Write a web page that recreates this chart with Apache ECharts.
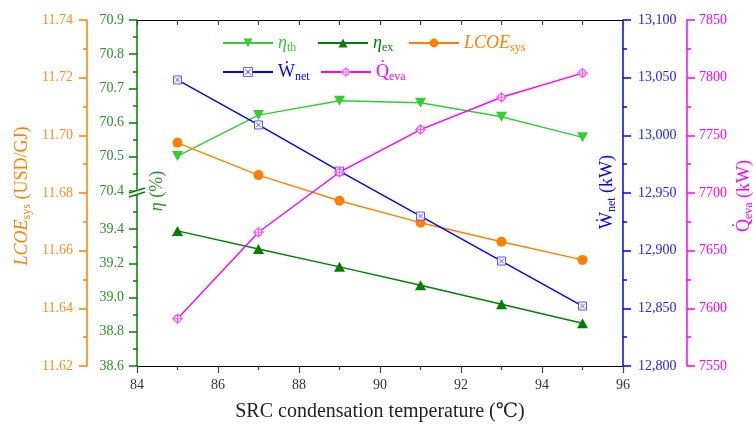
<!DOCTYPE html>
<html>
<head>
<meta charset="utf-8">
<script src="https://cdn.jsdelivr.net/npm/echarts@6/dist/echarts.min.js"></script>
<style>html,body{margin:0;padding:0;background:#fff;}#c{width:756px;height:428px;}</style>
</head>
<body>
<div id="c"></div>
<script>
// ---- data ----
const temps = [85, 87, 89, 91, 93, 95];
const etaTh = [70.502, 70.622, 70.664, 70.658, 70.617, 70.557];
const etaEx = [39.39, 39.284, 39.18, 39.072, 38.961, 38.85];
const lcoe = [11.6974, 11.6862, 11.6773, 11.6697, 11.6631, 11.6568];
const wnet = [13048, 13009, 12969, 12930, 12891, 12852];
const qeva = [7591, 7666, 7718, 7755, 7783, 7804];

// ---- tick labels ----
const xTicks = [84, 86, 88, 90, 92, 94, 96];
const lcoeTicks = [11.62, 11.64, 11.66, 11.68, 11.70, 11.72, 11.74];
const etaUpTicks = [70.4, 70.5, 70.6, 70.7, 70.8, 70.9];
const etaLoTicks = [38.6, 38.8, 39.0, 39.2, 39.4, 39.6];
const wnetTicks = [12800, 12850, 12900, 12950, 13000, 13050, 13100];
const qevaTicks = [7550, 7600, 7650, 7700, 7750, 7800, 7850];

const SERIF = '"Liberation Serif","DejaVu Serif",serif';
const C = {
  th: '#33cc33', ex: '#007f00', lc: '#ff8000', w: '#0000ff', q: '#ff00ff',
  axG: '#008000', labG: '#2e8b2e', labO: '#ff8c26', labB: '#2020ff'
};
const pairs = ys => temps.map((t, i) => [t, ys[i]]);
const step = a => +(a[1] - a[0]).toFixed(6);

const FS = 18, SFS = 12, SP = 10;
function mk(c, italic) {
  return {color: c, fontFamily: SERIF, fontSize: FS, fontStyle: italic ? 'italic' : 'normal'};
}
function sub(c) {
  return {color: c, fontFamily: SERIF, fontSize: SFS, padding: [SP, 0, 0, 0]};
}
const rich = {
  thI: mk(C.th, true), thS: sub(C.th),
  exI: mk(C.ex, true), exS: sub(C.ex),
  lcI: mk(C.lc, true), lcS: sub(C.lc), lcN: mk(C.lc, false),
  wN: mk(C.w, false), wS: sub(C.w),
  qN: mk(C.q, false), qS: sub(C.q),
  gI: mk(C.labG, true), gN: mk(C.labG, false)
};
// zrender graphic text uses "fill" instead of "color"
const richG = {};
Object.keys(rich).forEach(k => {
  const r = Object.assign({}, rich[k]);
  r.fill = r.color; delete r.color;
  richG[k] = r;
});
const legendText = {
  eta_th: '{thI|η}{thS|th}',
  eta_ex: '{exI|η}{exS|ex}',
  LCOE: '{lcI|LCOE}{lcS|sys}',
  Wnet: '{wN|\u1E86}{wS|net}',
  Qeva: '{qN|Q\u0307}{qS|eva}'
};

function mkLegend(name, left, top, itemStyle) {
  const d = {name: name};
  if (itemStyle) d.itemStyle = itemStyle;
  return {
    data: [d], left: left, top: top, padding: 0, itemWidth: 50, itemHeight: 11,
    selectedMode: false, formatter: n => legendText[n],
    textStyle: {rich: rich, fontFamily: SERIF}
  };
}

function yAx(o) {
  const base = {
    type: 'value', splitLine: {show: false},
    axisLine: {show: true, onZero: false, lineStyle: {color: o.color, width: 1.5}},
    axisTick: {show: true, inside: false, length: 8, lineStyle: {color: o.color, width: 1.5}},
    minorTick: {show: true, splitNumber: 2, length: 4, lineStyle: {color: o.color, width: 1.5}},
    axisLabel: {color: o.label, fontFamily: SERIF, fontSize: 14, margin: o.margin,
      formatter: o.fmt, showMaxLabel: o.showMax !== false}
  };
  return Object.assign(base, o.extra);
}

const fmtComma = v => Math.round(v).toLocaleString('en-US');

const SQX = 'path://M0,0L10,0L10,10L0,10Z M2,2L8,8 M8,2L2,8';
const DIA = 'path://M5,0L10,5L5,10L0,5Z M5,1.6A3.4,3.4,0,1,1,4.99,1.6Z M5,0L5,10 M0,5L10,5';

const option = {
  animation: false,
  backgroundColor: '#fff',
  grid: [
    {left: 137, right: 133, top: 20, bottom: 62},
    {left: 137, right: 133, top: 20, height: 171},
    {left: 137, right: 133, top: 195, bottom: 62}
  ],
  xAxis: [
    {type: 'value', gridIndex: 0, min: xTicks[0], max: xTicks[xTicks.length - 1], interval: step(xTicks),
      axisLine: {show: true, onZero: false, lineStyle: {color: '#000', width: 1.2}},
      axisTick: {show: true, length: 7, lineStyle: {color: '#444', width: 1.2}},
      minorTick: {show: true, splitNumber: 2, length: 4, lineStyle: {color: '#444', width: 1.2}},
      splitLine: {show: false},
      axisLabel: {color: '#333', fontFamily: SERIF, fontSize: 14, margin: 12},
      name: 'SRC condensation temperature (℃)', nameLocation: 'middle', nameGap: 36,
      nameTextStyle: {color: '#222', fontFamily: SERIF, fontSize: 20}},
    {type: 'value', gridIndex: 0, position: 'top', min: xTicks[0], max: xTicks[xTicks.length - 1], interval: 1,
      axisLine: {show: true, onZero: false, lineStyle: {color: '#000', width: 1.2}},
      axisTick: {show: true, inside: true, length: 5, lineStyle: {color: '#444', width: 1.2}},
      axisLabel: {show: false}, splitLine: {show: false}},
    {type: 'value', gridIndex: 1, show: false, min: xTicks[0], max: xTicks[xTicks.length - 1]},
    {type: 'value', gridIndex: 2, show: false, min: xTicks[0], max: xTicks[xTicks.length - 1]}
  ],
  yAxis: [
    yAx({color: C.lc, label: C.labO, margin: 14, fmt: v => v.toFixed(2),
      extra: {gridIndex: 0, position: 'left', offset: 50, min: lcoeTicks[0], max: lcoeTicks[lcoeTicks.length - 1], interval: step(lcoeTicks)}}),
    yAx({color: C.w, label: C.labB, margin: 15, fmt: fmtComma,
      extra: {gridIndex: 0, position: 'right', offset: 0, min: wnetTicks[0], max: wnetTicks[wnetTicks.length - 1], interval: step(wnetTicks)}}),
    yAx({color: C.q, label: C.q, margin: 12, fmt: v => String(Math.round(v)),
      extra: {gridIndex: 0, position: 'right', offset: 64, min: qevaTicks[0], max: qevaTicks[qevaTicks.length - 1], interval: step(qevaTicks)}}),
    yAx({color: C.axG, label: C.labG, margin: 13, fmt: v => v.toFixed(1),
      extra: {gridIndex: 1, position: 'left', min: etaUpTicks[0], max: etaUpTicks[etaUpTicks.length - 1], interval: step(etaUpTicks)}}),
    yAx({color: C.axG, label: C.labG, margin: 13, fmt: v => v.toFixed(1), showMax: false,
      extra: {gridIndex: 2, position: 'left', min: etaLoTicks[0], max: etaLoTicks[etaLoTicks.length - 1], interval: step(etaLoTicks)}})
  ],
  legend: [
    mkLegend('eta_th', 222, 34),
    mkLegend('eta_ex', 317, 34),
    mkLegend('LCOE', 408, 34),
    mkLegend('Wnet', 222, 63, {color: '#fff', borderColor: '#5555ff', borderWidth: 1}),
    mkLegend('Qeva', 320, 63, {color: '#fff', borderColor: '#ff55ff', borderWidth: 1})
  ],
  series: [
    {name: 'eta_th', type: 'line', xAxisIndex: 2, yAxisIndex: 3, data: pairs(etaTh),
      symbol: 'triangle', symbolRotate: 180, symbolSize: [11, 10],
      lineStyle: {color: C.th, width: 1.4}, itemStyle: {color: C.th}},
    {name: 'eta_ex', type: 'line', xAxisIndex: 3, yAxisIndex: 4, data: pairs(etaEx),
      symbol: 'triangle', symbolSize: [11, 10],
      lineStyle: {color: C.ex, width: 1.4}, itemStyle: {color: C.ex}},
    {name: 'LCOE', type: 'line', xAxisIndex: 0, yAxisIndex: 0, data: pairs(lcoe),
      symbol: 'circle', symbolSize: 10,
      lineStyle: {color: C.lc, width: 1.4}, itemStyle: {color: C.lc}},
    {name: 'Wnet', type: 'line', xAxisIndex: 0, yAxisIndex: 1, data: pairs(wnet),
      symbol: SQX, symbolSize: 8,
      lineStyle: {color: C.w, width: 1.4}, itemStyle: {color: '#fff', borderColor: '#5555ff', borderWidth: 1}},
    {name: 'Qeva', type: 'line', xAxisIndex: 0, yAxisIndex: 2, data: pairs(qeva),
      symbol: DIA, symbolSize: 10,
      lineStyle: {color: C.q, width: 1.4}, itemStyle: {color: '#fff', borderColor: '#ff55ff', borderWidth: 1}}
  ],
  graphic: [
    // axis break marks
    {type: 'polygon', shape: {points: [[129, 192], [145, 187], [145, 192], [129, 197]]},
      style: {fill: '#fff'}, z: 100},
    {type: 'line', shape: {x1: 129, y1: 193, x2: 145, y2: 188}, style: {stroke: C.axG, lineWidth: 1.5}, z: 101},
    {type: 'line', shape: {x1: 129, y1: 197, x2: 145, y2: 192}, style: {stroke: C.axG, lineWidth: 1.5}, z: 101},
    // axis titles
    {type: 'text', x: 22, y: 196, rotation: Math.PI / 2, z: 50,
      style: {text: '{lcI|LCOE}{lcS|sys}{lcN| (USD/GJ)}', rich: richG, align: 'center', verticalAlign: 'middle'}},
    {type: 'text', x: 157, y: 191, rotation: Math.PI / 2, z: 50,
      style: {text: '{gI|η}{gN| (%)}', rich: richG, align: 'center', verticalAlign: 'middle'}},
    {type: 'text', x: 607, y: 192, rotation: Math.PI / 2, z: 50,
      style: {text: '{wN|\u1E86}{wS|net}{wN| (kW)}', rich: richG, align: 'center', verticalAlign: 'middle'}},
    {type: 'text', x: 744, y: 196, rotation: Math.PI / 2, z: 50,
      style: {text: '{qN|Q\u0307}{qS|eva}{qN| (kW)}', rich: richG, align: 'center', verticalAlign: 'middle'}}
  ]
};

const chart = echarts.init(document.getElementById('c'), null, {renderer: 'canvas'});
chart.setOption(option);
</script>
</body>
</html>
